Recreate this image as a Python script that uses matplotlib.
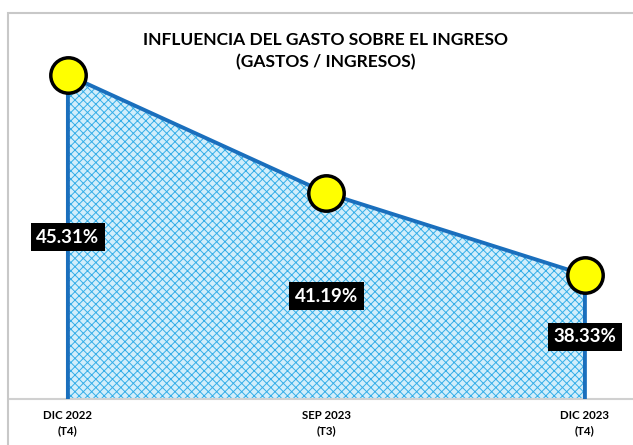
import matplotlib
matplotlib.use("Agg")
import matplotlib.pyplot as plt
from matplotlib.patches import Rectangle

# data
periodos = ["DIC 2022\n(T4)", "SEP 2023\n(T3)", "DIC 2023\n(T4)"]
valores = [45.31, 41.19, 38.33]

plt.rcParams['font.family'] = ['Lato', 'DejaVu Sans']
plt.rcParams['hatch.linewidth'] = 0.7

fig = plt.figure(figsize=(6.33, 4.45), dpi=100)

# outer frame
fig.patches.append(Rectangle((8 / 633, -0.05), 1.0, 1 - 13 / 445 + 0.05,
                             transform=fig.transFigure, facecolor='none',
                             edgecolor='#c8c8c8', linewidth=1.5, zorder=0))

ax = fig.add_axes([10 / 633, 1 - 399 / 445, 623 / 633, (399 - 41) / 445])
ax.set_zorder(2)
ax.patch.set_alpha(0)
ymin = 34
ax.set_ylim(ymin, 46.5)
ax.set_xlim(-0.224, 2.186)

x = list(range(len(valores)))
ax.fill_between(x, ymin, valores, facecolor='#d2eefb', edgecolor='none', zorder=1)
ax.fill_between(x, ymin, valores, facecolor='none', edgecolor='#35aee8',
                linewidth=0, hatch='xxxx', zorder=2)
ax.plot([x[0]] + x + [x[-1]], [ymin] + valores + [ymin], color='#1a6fbd',
        linewidth=2.8, zorder=3, solid_joinstyle='miter')
ax.plot(x, valores, linestyle='none', marker='o', markersize=25.5,
        markerfacecolor='#ffff00', markeredgecolor='black', markeredgewidth=2.5,
        zorder=5, clip_on=False)

for xi, v in zip(x, valores):
    ax.text(xi, (ymin + v) / 2, f"{v:.2f}%", ha='center', va='center',
            color='white', fontsize=13.5, fontweight='bold', zorder=6,
            bbox=dict(boxstyle='square,pad=0.3', facecolor='black', edgecolor='none'))

for s in ['top', 'right', 'left']:
    ax.spines[s].set_visible(False)
ax.spines['bottom'].set_color('#d0d0d0')
ax.spines['bottom'].set_linewidth(1.5)
ax.set_yticks([])
ax.set_xticks(x)
ax.set_xticklabels(periodos, fontsize=8.3, fontweight='bold', linespacing=1.5)
ax.tick_params(axis='x', length=0, pad=8)

fig.text(326 / 633, 1 - 51 / 445, "INFLUENCIA DEL GASTO SOBRE EL INGRESO\n(GASTOS / INGRESOS)",
         ha='center', va='center', fontsize=12.5, fontweight='bold', linespacing=1.5)

fig.savefig("out.png", dpi=100)
